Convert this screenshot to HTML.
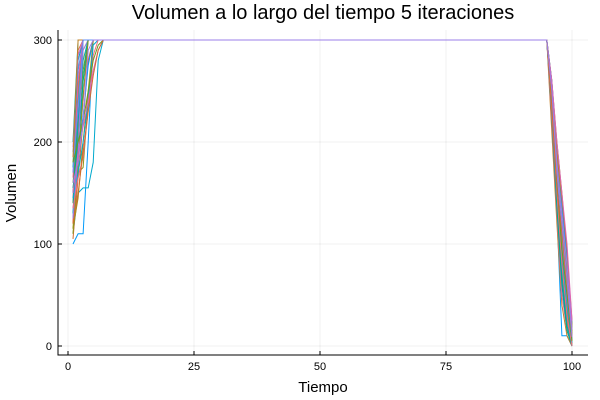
<!DOCTYPE html>
<html><head><meta charset="utf-8"><style>
body{margin:0;background:#fff}
svg{display:block;font-family:"Liberation Sans","DejaVu Sans",sans-serif}
</style></head><body>
<svg id="chart" width="600" height="400">
<rect width="600" height="400" fill="#fff"/>
<text x="323" y="19" font-size="20" text-anchor="middle" fill="#000">Volumen a lo largo del tiempo 5 iteraciones</text>
<text x="323" y="392" font-size="15" text-anchor="middle">Tiempo</text>
<text x="16" y="193" font-size="15" text-anchor="middle" transform="rotate(-90 16 193)">Volumen</text>
<g id="grid"></g><g id="series"></g><g id="axes"></g>
</svg>
<script>
const xTicks=[0,25,50,75,100];
const yTicks=[0,100,200,300];
const colors=["#009AFA","#E36F47","#3EA44E","#C371D2","#AC8E18","#00AAAE","#ED5E93","#C68225","#00A98D","#8E971E","#00A9CD","#9B7FE9","#618DF6","#F16C7D","#DD64B5","#6B9D1F","#D06D30","#01A3B9"];
// ramp-up values for t=1,2,... (then 300 until t=95)
const rampUp=[
[100,110,110,200,300],[120,290,300],[150,230,300],[170,250,300],[115,200,290,300],
[130,175,260,300],[140,210,300],[180,250,300],[200,300],[160,170,175,240,300],
[110,150,155,155,180,280,300],[125,230,290,300],[190,270,300],[145,260,300],[135,185,240,300],
[160,215,270,300],[105,165,220,280,300],[175,280,300],[150,190,225,275,300],[120,205,300],
[140,240,300],[195,285,300],[115,145,200,250,300],[130,220,280,300],[165,260,300],
[185,300],[155,200,260,300],[110,180,245,300],[145,170,200,240,295,300],[125,190,300],
[170,235,300],[135,165,185,230,285,300],[150,190,215,240,270,290,300],[180,200,220,250,280,295,300],[120,150,190,230,265,290,300],[160,180,220,290,300]];
// values at t=96..100
const rampDown=[
[230,130,10,10,0],[240,160,100,40,10],[250,190,120,60,5],[220,140,80,30,0],[260,180,140,70,15],
[230,150,60,20,0],[250,170,110,50,8],[210,120,40,10,0],[240,170,130,80,20],[260,200,150,90,25],
[230,140,70,30,0],[245,160,90,40,5],[235,150,100,55,10],[255,175,120,65,12],[220,130,50,15,0],
[250,185,135,80,18],[240,150,75,35,2],[230,165,110,60,10],[260,195,140,85,22],[225,140,65,25,0],
[245,170,115,55,6],[235,155,90,45,4],[250,180,125,75,15],[230,145,70,20,0],[240,160,105,50,8],
[255,190,145,95,20],[225,135,60,15,0],[245,175,120,70,12],[235,150,85,40,3],[250,180,130,80,16],
[240,165,100,45,7],[230,150,80,30,0],[260,200,150,100,25],[245,160,95,50,5],[235,155,110,60,10],[250,170,120,65,9]];
const X0=68,X1=572,Y0=346,Y1=40;
const sx=v=>X0+(X1-X0)*v/100;
const sy=v=>Y0-(Y0-Y1)*v/300;
const NS="http://www.w3.org/2000/svg";
const grid=document.getElementById('grid'),axes=document.getElementById('axes'),ser=document.getElementById('series');
xTicks.forEach(t=>{
 const l=document.createElementNS(NS,'line');
 
 
 l.setAttribute('x1',sx(t));l.setAttribute('x2',sx(t));l.setAttribute('y1',30);l.setAttribute('y2',355);
 l.setAttribute('stroke','#000');l.setAttribute('stroke-opacity','0.06');grid.appendChild(l);
 const k=document.createElementNS(NS,'line');
 
 
 k.setAttribute('x1',sx(t));k.setAttribute('x2',sx(t));k.setAttribute('y1',355);k.setAttribute('y2',351);
 k.setAttribute('stroke','#000');axes.appendChild(k);
 const tx=document.createElementNS(NS,'text');
 
 
 tx.setAttribute('x',sx(t));tx.setAttribute('y',370);tx.setAttribute('font-size','11');tx.setAttribute('text-anchor','middle');
 tx.textContent=t;axes.appendChild(tx);
});
yTicks.forEach(t=>{
 const l=document.createElementNS(NS,'line');
 
 
 l.setAttribute('x1',58);l.setAttribute('x2',588);l.setAttribute('y1',sy(t));l.setAttribute('y2',sy(t));
 l.setAttribute('stroke','#000');l.setAttribute('stroke-opacity','0.06');grid.appendChild(l);
 const k=document.createElementNS(NS,'line');
 
 
 k.setAttribute('x1',58);k.setAttribute('x2',62);k.setAttribute('y1',sy(t));k.setAttribute('y2',sy(t));
 k.setAttribute('stroke','#000');axes.appendChild(k);
 const tx=document.createElementNS(NS,'text');
 
 
 tx.setAttribute('x',52);tx.setAttribute('y',sy(t)+4);tx.setAttribute('font-size','11');tx.setAttribute('text-anchor','end');
 tx.textContent=t;axes.appendChild(tx);
});
const ax=document.createElementNS(NS,'path');


ax.setAttribute('d','M58,30 V355 H588');ax.setAttribute('stroke','#000');ax.setAttribute('fill','none');axes.appendChild(ax);
rampUp.forEach((up,i)=>{
 const vals=[];
 for(let t=1;t<=100;t++){
  if(t<=up.length) vals.push(up[t-1]);
  else if(t<=95) vals.push(300);
  else vals.push(rampDown[i][t-96]);
 }
 const d=vals.map((v,j)=>(j?'L':'M')+sx(j+1).toFixed(1)+','+sy(v).toFixed(1)).join('');
 const p=document.createElementNS(NS,'path');
 
 
 p.setAttribute('d',d);p.setAttribute('fill','none');
 p.setAttribute('stroke',i===rampUp.length-1?'#9B7FE9':colors[i%colors.length]);p.setAttribute('stroke-width','1');
 ser.appendChild(p);
});
</script>
</body></html>
